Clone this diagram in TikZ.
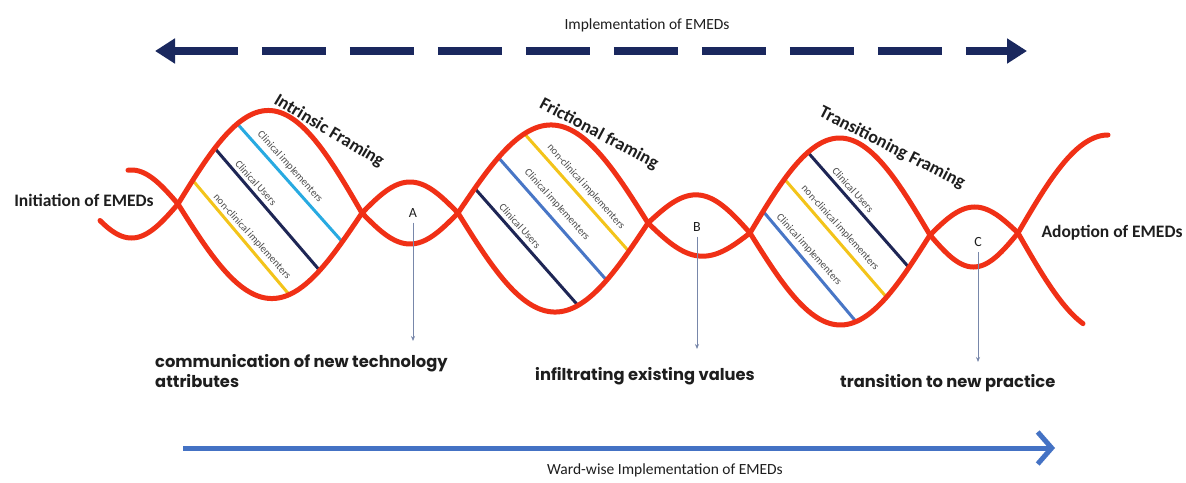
\documentclass[tikz,border=0pt]{standalone}
\usepackage{fontspec}
\setmainfont{Carlito}
\newfontfamily\gothic{Poppins}
\usetikzlibrary{arrows.meta,calc}
\definecolor{strandred}{RGB}{240,48,22}
\definecolor{rungcyan}{RGB}{40,170,225}
\definecolor{rungnavy}{RGB}{30,38,85}
\definecolor{rungyellow}{RGB}{243,196,26}
\definecolor{rungblue}{RGB}{72,118,198}
\definecolor{topnavy}{RGB}{26,40,94}
\definecolor{botblue}{RGB}{68,114,196}
\definecolor{pointgray}{RGB}{120,135,170}
\definecolor{textdark}{RGB}{30,30,30}
\newcommand\hwave[7]{plot[domain=#1:#2,samples=60,variable=\t] (\t,{#5+(#6-#5)*((\t-#3)/(#4-#3))+(#7)*sin(180*((\t-#3)/(#4-#3)))})}
\newcommand\loopclip[6]{plot[domain=#1:#2,samples=60,variable=\t] (\t,{#3+(#4-#3)*((\t-#1)/(#2-#1))+(#5)*sin(180*((\t-#1)/(#2-#1)))}) -- plot[domain=#2:#1,samples=60,variable=\t] (\t,{#3+(#4-#3)*((\t-#1)/(#2-#1))+(#6)*sin(180*((\t-#1)/(#2-#1)))}) -- cycle}
\tikzset{
  strand/.style={draw=strandred, line width=5pt, line cap=round, line join=round},
  rung/.style={line width=3pt},
  runglabel/.style={font=\fontsize{10.5}{11}\selectfont, text=black!70, rotate=-48, inner sep=0pt},
  framelabel/.style={font=\bfseries\fontsize{18}{20}\selectfont, text=textdark, inner sep=0pt},
  sidelabel/.style={font=\bfseries\fontsize{17.5}{20}\selectfont, text=textdark, inner sep=0pt},
  letter/.style={font=\fontsize{14}{16}\selectfont, text=textdark, inner sep=1pt},
  pointer/.style={draw=pointgray, line width=0.8pt, -{Stealth[length=5pt,width=4pt]}},
  outcome/.style={font=\gothic\bfseries\fontsize{16.3}{18}\selectfont, text=textdark, anchor=base west, inner sep=0pt},
  axislabel/.style={font=\fontsize{15.5}{18}\selectfont, text=textdark, inner sep=0pt}
}
\begin{document}
\begin{tikzpicture}[x=1pt,y=-1pt]
\useasboundingbox (0,0) rectangle (1186,482);
\fill[white] (0,0) rectangle (1186,482);

% top dashed double arrow
\node[axislabel] (impl) at (647,25) {Implementation of EMEDs};
\coordinate (topL) at (155,51);
\coordinate (topR) at (1027,51);
\draw[topnavy, line width=8pt, dash pattern=on 64pt off 24pt,
  {Triangle[length=20pt,width=24pt]}-{Triangle[length=20pt,width=24pt]}] (topL) -- (topR);

% rungs, clipped to the loops
\begin{scope}
\clip \loopclip{178}{362}{204}{213}{-98}{90};
\draw[rung, rungcyan] ($(242,129)!-0.3!(338,237)$) -- ($(242,129)!1.3!(338,237)$);
\draw[rung, rungnavy] ($(218,152)!-0.3!(315,265)$) -- ($(218,152)!1.3!(315,265)$);
\draw[rung, rungyellow] ($(195,183)!-0.3!(287,292)$) -- ($(195,183)!1.3!(287,292)$);
\end{scope}
\begin{scope}
\clip \loopclip{458}{648}{213}{223}{-93}{94};
\draw[rung, rungyellow] ($(530,140)!-0.3!(625,247)$) -- ($(530,140)!1.3!(625,247)$);
\draw[rung, rungblue] ($(505,165)!-0.3!(602,275)$) -- ($(505,165)!1.3!(602,275)$);
\draw[rung, rungnavy] ($(478,192)!-0.3!(575,302)$) -- ($(478,192)!1.3!(575,302)$);
\end{scope}
\begin{scope}
\clip \loopclip{750}{930}{233}{235}{-96}{91};
\draw[rung, rungnavy] ($(812,157)!-0.3!(905,263)$) -- ($(812,157)!1.3!(905,263)$);
\draw[rung, rungyellow] ($(787,182)!-0.3!(882,292)$) -- ($(787,182)!1.3!(882,292)$);
\draw[rung, rungblue] ($(762,210)!-0.3!(853,318)$) -- ($(762,210)!1.3!(853,318)$);
\end{scope}

% strands
\draw[strand] \hwave{128}{178}{85}{178}{204}{204}{-34}
  \hwave{178}{362}{178}{362}{204}{213}{90}
  \hwave{362}{458}{362}{458}{213}{213}{-31}
  \hwave{458}{648}{458}{648}{213}{223}{94}
  \hwave{648}{750}{648}{750}{223}{233}{-33}
  \hwave{750}{930}{750}{930}{233}{235}{91}
  \hwave{930}{1018}{930}{1018}{235}{233}{-27}
  \hwave{1018}{1083}{1018}{1198}{233}{233}{100};
\draw[strand] \hwave{100}{178}{85}{178}{204}{204}{34}
  \hwave{178}{362}{178}{362}{204}{213}{-98}
  \hwave{362}{458}{362}{458}{213}{213}{31}
  \hwave{458}{648}{458}{648}{213}{223}{-93}
  \hwave{648}{750}{648}{750}{223}{233}{28}
  \hwave{750}{930}{750}{930}{233}{235}{-96}
  \hwave{930}{1018}{930}{1018}{235}{233}{33}
  \hwave{1018}{1108}{1018}{1198}{233}{233}{-98};

% rung labels
\node[runglabel] (l1a) at (290,167) {Clinical implementers};
\node[runglabel] (l1b) at (256,183) {Clinical Users};
\node[runglabel] (l1c) at (252,237) {non-clinical implementers};
\node[runglabel] (l2a) at (586,187) {non-clinical implementers};
\node[runglabel] (l2b) at (557,205) {Clinical implementers};
\node[runglabel] (l2c) at (520,226) {Clinical Users};
\node[runglabel] (l3a) at (853,190) {Clinical Users};
\node[runglabel] (l3b) at (840,228) {non-clinical implementers};
\node[runglabel] (l3c) at (809,250) {Clinical implementers};

% framing titles
\node[framelabel, rotate=-31] (intr) at (329,131) {Intrinsic Framing};
\node[framelabel, rotate=-28] (fric) at (599,134) {Frictional framing};
\node[framelabel, rotate=-27] (tran) at (892,148) {Transitioning Framing};

% side labels
\node[sidelabel] (init) at (84,200) {Initiation of EMEDs};
\node[sidelabel] (adopt) at (1112,233) {Adoption of EMEDs};

% letters and pointers
\node[letter] (A) at (413,213) {A};
\node[letter] (B) at (697,227) {B};
\node[letter] (C) at (978,242) {C};
\coordinate (tipA) at (412,341);
\coordinate (tipB) at (694,349);
\coordinate (tipC) at (976,362);
\draw[pointer] ([yshift=-4pt]A.south) -- (A.south |- tipA);
\draw[pointer] ([yshift=-4pt]B.south) -- (B.south |- tipB);
\draw[pointer] ([yshift=-4pt]C.south) -- (C.south |- tipC);

% outcomes
\node[outcome] (outA1) at (155,367) {communication of new technology};
\node[outcome] (outA2) at (155,387) {attributes};
\node[outcome] (outB) at (535,380) {infiltrating existing values};
\node[outcome] (outC) at (840,387) {transition to new practice};

% bottom arrow
\coordinate (botL) at (183,448);
\coordinate (botR) at (1055,448);
\draw[botblue, line width=5pt, -{Straight Barb[length=14pt,width=32pt]}] (botL) -- (botR);
\node[axislabel] (ward) at (665,470) {Ward-wise Implementation of EMEDs};
\end{tikzpicture}
\end{document}
